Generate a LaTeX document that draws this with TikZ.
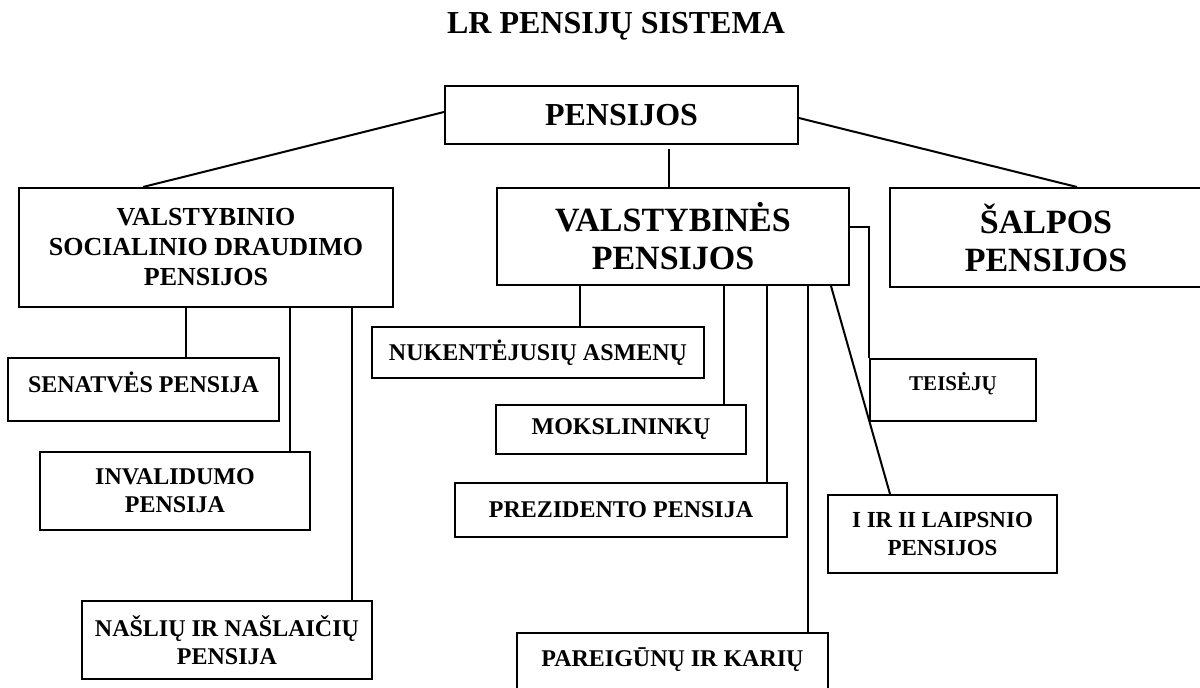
\documentclass[tikz,border=0pt]{standalone}
\usepackage{fontspec}
\setmainfont{Liberation Serif}

\begin{document}
\begin{tikzpicture}[x=0.5pt, y=-0.5pt, line width=1pt,
	box/.style={draw, rectangle, align=center, inner sep=1pt},
	huge/.style={box, font=\bfseries\fontsize{17}{19}\selectfont},
	large/.style={box, font=\bfseries\fontsize{16}{19}\selectfont},
	mid/.style={box, font=\bfseries\fontsize{13}{15}\selectfont},
	small/.style={box, font=\bfseries\fontsize{12}{14}\selectfont},
	tiny/.style={box, font=\bfseries\fontsize{10.5}{13}\selectfont}]

		\useasboundingbox (0,0) rectangle (1200,687);

		\node[font=\bfseries\fontsize{16}{19}\selectfont, anchor=base] (title) at (616,33) {LR PENSIJŲ SISTEMA};

		\node[large, minimum width=176.5pt, minimum height=29pt] (pens) at (621.5,115) {PENSIJOS};
		\node[mid, minimum width=187pt, minimum height=59.5pt] (vsd) at (206,247.5) {VALSTYBINIO\\SOCIALINIO DRAUDIMO\\PENSIJOS};
		\node[huge, minimum width=176pt, minimum height=48.5pt] (vp) at (673,236.5) {VALSTYBINĖS\\PENSIJOS};
		\node[huge, minimum width=156pt, minimum height=49.5pt] (salp) at (1046,237.5) {ŠALPOS\\PENSIJOS};

		\node[small, minimum width=135.5pt, minimum height=31.5pt, text height=8pt, text depth=5.5pt] (sen) at (143.5,389.5) {SENATVĖS PENSIJA};
		\node[small, minimum width=135pt, minimum height=39pt] (inv) at (175,491) {INVALIDUMO\\PENSIJA};
		\node[small, minimum width=145pt, minimum height=39pt] (nas) at (227,640) {NAŠLIŲ IR NAŠLAIČIŲ\\PENSIJA};

		\node[small, minimum width=166pt, minimum height=25.5pt] (nuk) at (538,352.5) {NUKENTĖJUSIŲ ASMENŲ};
		\node[small, minimum width=125pt, minimum height=24.5pt] (moks) at (621,429.5) {MOKSLININKŲ};
		\node[small, minimum width=166pt, minimum height=27pt] (prez) at (621,510) {PREZIDENTO PENSIJA};
		\node[small, minimum width=155.5pt, minimum height=29pt, text height=8pt, text depth=4pt] (pare) at (672.5,662) {PAREIGŪNŲ IR KARIŲ};
		\node[tiny, minimum width=83pt, minimum height=31pt, text height=7pt, text depth=7pt] (teis) at (953,390) {TEISĖJŲ};
		\node[box, font=\bfseries\fontsize{11.5}{14}\selectfont, minimum width=114.5pt, minimum height=39pt] (laip) at (942.5,534) {I IR II LAIPSNIO\\PENSIJOS};

		% top level
		\path
		([yshift=1.5pt]pens.west) edge ([xshift=-31.5pt]vsd.north)
		([yshift=-1.5pt]pens.east) edge ([xshift=15.5pt]salp.north)
		([xshift=23.75pt,yshift=-2pt]pens.south) edge ([xshift=23.75pt]pens.south |- vp.north);

		% socialinio draudimo
		\path
		([xshift=21.25pt]sen.north) edge ([xshift=21.25pt]sen.north |- vsd.south)
		([xshift=-10.5pt]inv.north east) edge ([xshift=-10.5pt]inv.north east |- vsd.south)
		([xshift=-10.5pt]nas.north east) edge ([xshift=-10.5pt]nas.north east |- vsd.south);

		% valstybines
		\path
		([xshift=21pt]nuk.north) edge ([xshift=21pt]nuk.north |- vp.south)
		([xshift=-11.5pt]moks.north east) edge ([xshift=-11.5pt]moks.north east |- vp.south)
		([xshift=-10.5pt]prez.north east) edge ([xshift=-10.5pt]prez.north east |- vp.south)
		([xshift=-10.5pt]pare.north east) edge ([xshift=-10.5pt]pare.north east |- vp.south)
		([xshift=-9.5pt]vp.south east) edge ([xshift=31.5pt]laip.north west);
		\draw ([yshift=4.75pt]vp.east) -| (teis.north west);

\end{tikzpicture}
\end{document}
